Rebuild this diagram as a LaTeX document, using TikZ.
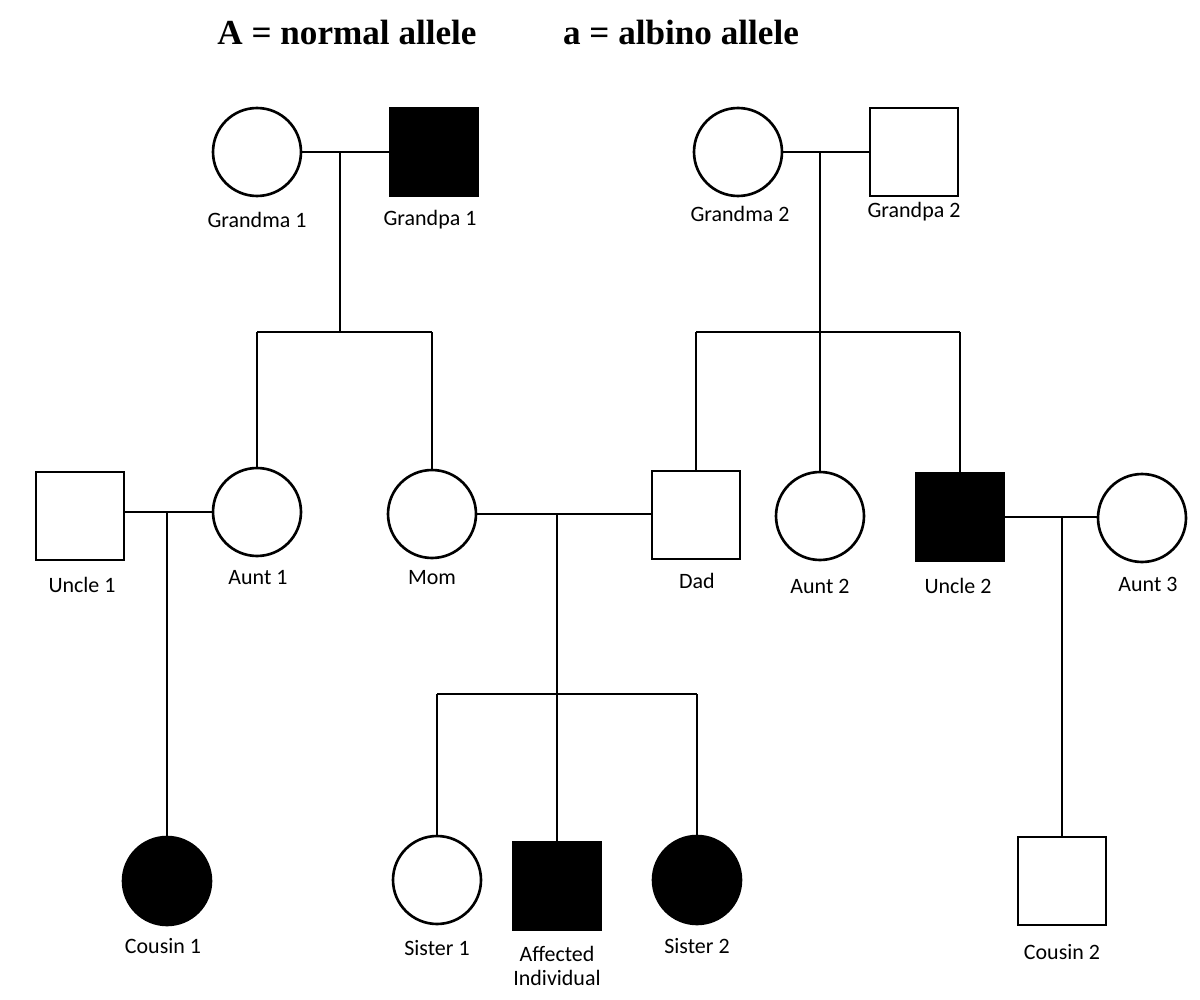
\documentclass[tikz,border=0pt]{standalone}
\usepackage{fontspec}
\setmainfont{Liberation Serif}
\newfontfamily\labelfont{Carlito}
\usepackage{tikz}

\begin{document}
\begin{tikzpicture}[x=0.02cm,y=-0.02cm,line width=1.5pt,
    female/.style={draw,circle,minimum size=1.76cm,inner sep=0pt},
    male/.style={draw,rectangle,minimum size=1.76cm,inner sep=0pt},
    affected/.style={fill=black},
    tag/.style={font=\labelfont\fontsize{12.5}{14}\selectfont,align=center,inner sep=0pt},
    title/.style={font=\bfseries\fontsize{20}{22}\selectfont,inner sep=0pt}]
    \useasboundingbox (0,0) rectangle (1200,1000);
    % legend
    \node [title] (allA) at (347,32) {A = normal allele};
    \node [title] (alla) at (681,32) {a = albino allele};
    % grandparents
    \node [female] (gma1) at (257,152) {};
    \node [tag] (gma1l) at (257,220) {Grandma 1};
    \node [male,affected] (gpa1) at (434,152) {};
    \node [tag] (gpa1l) at (430,220) {Grandpa 1};
    \node [female] (gma2) at (738,152) {};
    \node [tag] (gma2l) at (740,214) {Grandma 2};
    \node [male] (gpa2) at (914,152) {};
    \node [tag] (gpa2l) at (914,212) {Grandpa 2};
    % parents generation
    \node [male] (uncle1) at (80,516) {};
    \node [tag] (uncle1l) at (82,585) {Uncle 1};
    \node [female] (aunt1) at (257,512) {};
    \node [tag] (aunt1l) at (258,578) {Aunt 1};
    \node [female] (mom) at (432,514) {};
    \node [tag] (moml) at (432,578) {Mom};
    \node [male] (dad) at (696,515) {};
    \node [tag] (dadl) at (697,581) {Dad};
    \node [female] (aunt2) at (820,516) {};
    \node [tag] (aunt2l) at (820,586) {Aunt 2};
    \node [male,affected] (uncle2) at (960,517) {};
    \node [tag] (uncle2l) at (958,586) {Uncle 2};
    \node [female] (aunt3) at (1142,518) {};
    \node [tag] (aunt3l) at (1148,584) {Aunt 3};
    % children
    \node [female,affected] (cousin1) at (167,881) {};
    \node [tag] (cousin1l) at (163,946) {Cousin 1};
    \node [female] (sister1) at (437,880) {};
    \node [tag] (sister1l) at (437,948) {Sister 1};
    \node [male,affected] (affd) at (557,886) {};
    \node [tag] (affdl) at (557,966) {Affected\\Individual};
    \node [female,affected] (sister2) at (697,880) {};
    \node [tag] (sister2l) at (697,946) {Sister 2};
    \node [male] (cousin2) at (1062,881) {};
    \node [tag] (cousin2l) at (1062,952) {Cousin 2};
    % family 1
    \draw (gma1.east) -- (gpa1.west);
    \coordinate (m1) at (340,152);
    \coordinate (s1) at (340,332);
    \draw (m1) -- (s1);
    \draw (aunt1.north |- s1) -- (mom.north |- s1);
    \draw (aunt1.north |- s1) -- (aunt1.north);
    \draw (mom.north |- s1) -- (mom.north);
    % family 2
    \draw (gma2.east) -- (gpa2.west);
    \coordinate (m2) at (820,152);
    \coordinate (s2) at (820,332);
    \draw (m2) -- (s2);
    \draw (dad.north |- s2) -- (uncle2.north |- s2);
    \draw (dad.north |- s2) -- (dad.north);
    \draw (s2) -- (aunt2.north);
    \draw (uncle2.north |- s2) -- (uncle2.north);
    % couples
    \draw (aunt1.west) -- (aunt1.west -| uncle1.east);
    \coordinate (m3) at (167,512);
    \draw (m3) -- (cousin1.north);
    \draw (mom.east) -- (mom.east -| dad.west);
    \coordinate (m4) at (557,514);
    \coordinate (s4) at (557,694);
    \draw (m4) -- (s4);
    \draw (sister1.north |- s4) -- (sister2.north |- s4);
    \draw (sister1.north |- s4) -- (sister1.north);
    \draw (s4) -- (affd.north);
    \draw (sister2.north |- s4) -- (sister2.north);
    \draw (uncle2.east) -- (uncle2.east -| aunt3.west);
    \coordinate (m5) at (1062,517);
    \draw (m5) -- (cousin2.north);
\end{tikzpicture}
\end{document}
